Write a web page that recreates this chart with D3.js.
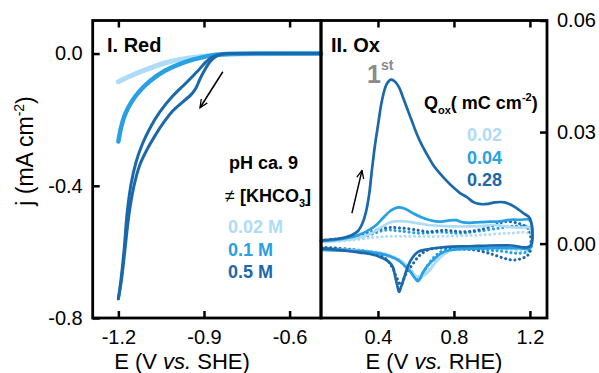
<!DOCTYPE html>
<html>
<head>
<meta charset="utf-8">
<script src="https://cdn.jsdelivr.net/npm/d3@7"></script>
<style>
  html, body { margin: 0; padding: 0; background: #fff; }
  svg { display: block; font-family: "Liberation Sans", Arial, sans-serif; }
</style>
</head>
<body>
<svg id="chart" width="599" height="373"></svg>
<script>
// ---------- Panel I: reduction sweeps (E vs SHE, j in mA cm-2) ----------
const redTicksX = [-1.2, -0.9, -0.6];
const redTicksY = [0.0, -0.4, -0.8];
const redLegend = ["0.02 M", "0.1 M", "0.5 M"];

const redE_002 = [-1.200, -1.148, -1.089, -1.031, -0.973, -0.914, -0.868, -0.809, -0.704, -0.490];
const redJ_002 = [-0.085, -0.064, -0.044, -0.027, -0.016, -0.009, -0.005, -0.0015, -0.0003, 0];

const redE_01 = [-1.200, -1.191, -1.177, -1.156, -1.128, -1.089, -1.037, -0.974, -0.914, -0.862, -0.809, -0.490];
const redJ_01 = [-0.266, -0.225, -0.185, -0.149, -0.116, -0.083, -0.052, -0.028, -0.013, -0.004, -0.001, 0];

// 0.5 M: the two branches of the sweep
const redE_05a = [-1.200, -1.191, -1.180, -1.170, -1.156, -1.138, -1.117, -1.089, -1.054, -1.012, -0.963, -0.921, -0.893, -0.868, -0.837, -0.792, -0.490];
const redJ_05a = [-0.742, -0.684, -0.594, -0.488, -0.397, -0.328, -0.276, -0.225, -0.176, -0.131, -0.089, -0.052, -0.025, -0.009, -0.001, 0, 0];
const redE_05b = [-1.200, -1.189, -1.177, -1.163, -1.146, -1.125, -1.100, -1.072, -1.040, -1.009, -0.974, -0.946, -0.928, -0.914, -0.897, -0.879, -0.858, -0.830, -0.774];
const redJ_05b = [-0.742, -0.684, -0.594, -0.488, -0.403, -0.337, -0.291, -0.249, -0.207, -0.173, -0.146, -0.125, -0.104, -0.077, -0.049, -0.025, -0.009, -0.001, 0];

// ---------- Panel II: oxidation CVs (E vs RHE, j in mA cm-2) ----------
const oxTicksX = [0.4, 0.8, 1.2];
const oxTicksY = [0.00, 0.03, 0.06];
const oxLegend = ["0.02", "0.04", "0.28"];

// first cycles (solid)
const oxE_028 = [0.100, 0.189, 0.258, 0.295, 0.321, 0.339, 0.353, 0.368, 0.384, 0.400, 0.421, 0.445, 0.468, 0.489, 0.511, 0.532, 0.553, 0.579, 0.605, 0.632, 0.658, 0.689, 0.726, 0.763, 0.795, 0.832, 0.868, 0.905, 0.942, 0.979, 1.016, 1.068, 1.105, 1.137, 1.168, 1.200,
                 1.200, 1.100, 0.989, 0.884, 0.753, 0.663, 0.611, 0.584, 0.558, 0.537, 0.521, 0.511, 0.500, 0.489, 0.479, 0.453, 0.411, 0.358, 0.305, 0.226, 0.147, 0.100];
const oxJ_028 = [0.0009, 0.0013, 0.0022, 0.0034, 0.0058, 0.0090, 0.0130, 0.0197, 0.0264, 0.0318, 0.0385, 0.0428, 0.0441, 0.0436, 0.0420, 0.0393, 0.0364, 0.0329, 0.0294, 0.0264, 0.0240, 0.0213, 0.0189, 0.0168, 0.0152, 0.0136, 0.0125, 0.0111, 0.0106, 0.0107, 0.0111, 0.0111, 0.0103, 0.0093, 0.0081, 0.0068,
                 -0.0007, -0.0005, -0.0005, -0.0007, -0.0009, -0.0015, -0.0022, -0.0036, -0.0060, -0.0093, -0.0117, -0.0130, -0.0109, -0.0085, -0.0063, -0.0047, -0.0036, -0.0028, -0.0024, -0.0019, -0.0015, -0.0013];

const oxE_004 = [0.100, 0.200, 0.279, 0.332, 0.384, 0.426, 0.463, 0.500, 0.542, 0.584, 0.632, 0.674, 0.726, 0.768, 0.811, 0.842, 0.884, 0.937, 0.989, 1.042, 1.095, 1.147, 1.200,
                 1.200, 1.147, 1.042, 0.937, 0.832, 0.779, 0.732, 0.695, 0.663, 0.637, 0.611, 0.595, 0.568, 0.537, 0.505, 0.463, 0.411, 0.332, 0.226, 0.100];
const oxJ_004 = [0.0007, 0.0012, 0.0020, 0.0031, 0.0047, 0.0069, 0.0087, 0.0097, 0.0094, 0.0082, 0.0070, 0.0063, 0.0059, 0.0062, 0.0063, 0.0058, 0.0056, 0.0058, 0.0059, 0.0060, 0.0064, 0.0064, 0.0063,
                 -0.0012, -0.0012, -0.0012, -0.0013, -0.0015, -0.0017, -0.0026, -0.0042, -0.0058, -0.0077, -0.0101, -0.0093, -0.0074, -0.0058, -0.0044, -0.0034, -0.0027, -0.0021, -0.0019, -0.0017];

const oxE_002 = [0.100, 0.253, 0.358, 0.411, 0.453, 0.489, 0.542, 0.595, 0.663, 0.753, 0.832, 0.937, 1.016, 1.100, 1.147, 1.200,
                 1.200, 1.042, 0.884, 0.805, 0.753, 0.705, 0.663, 0.626, 0.600, 0.568, 0.537, 0.495, 0.437, 0.358, 0.226, 0.100];
const oxJ_002 = [0.0004, 0.0011, 0.0026, 0.0042, 0.0055, 0.0060, 0.0060, 0.0056, 0.0050, 0.0047, 0.0046, 0.0047, 0.0050, 0.0044, 0.0043, 0.0042,
                 -0.0009, -0.0009, -0.0011, -0.0015, -0.0026, -0.0050, -0.0077, -0.0090, -0.0087, -0.0071, -0.0052, -0.0039, -0.0028, -0.0022, -0.0017, -0.0016];

// following cycles (dotted)
const oxE_028b = [0.100, 0.189, 0.311, 0.437, 0.521, 0.611, 0.663, 0.753, 0.837, 0.926, 1.016, 1.068, 1.137, 1.189, 1.200,
                  1.200, 1.174, 1.121, 1.068, 1.016, 0.963, 0.884, 0.837, 0.753, 0.674, 0.621, 0.579, 0.542, 0.521, 0.500, 0.474, 0.437, 0.358, 0.253, 0.147, 0.100];
const oxJ_028b = [0.0009, 0.0013, 0.0023, 0.0042, 0.0042, 0.0036, 0.0032, 0.0036, 0.0032, 0.0036, 0.0050, 0.0059, 0.0055, 0.0042, 0.0031,
                  -0.0023, -0.0036, -0.0044, -0.0040, -0.0031, -0.0023, -0.0015, -0.0013, -0.0012, -0.0015, -0.0031, -0.0058, -0.0087, -0.0111, -0.0093, -0.0063, -0.0039, -0.0023, -0.0015, -0.0011, -0.0009];

const oxE_004b = [0.100, 0.226, 0.332, 0.437, 0.516, 0.621, 0.726, 0.832, 0.937, 1.042, 1.121, 1.200,
                  1.200, 1.147, 1.042, 0.884, 0.753, 0.700, 0.663, 0.632, 0.616, 0.595, 0.558, 0.505, 0.437, 0.332, 0.200, 0.100];
const oxJ_004b = [0.0007, 0.0012, 0.0020, 0.0036, 0.0034, 0.0028, 0.0031, 0.0028, 0.0034, 0.0042, 0.0047, 0.0042,
                  -0.0017, -0.0026, -0.0020, -0.0016, -0.0017, -0.0034, -0.0058, -0.0085, -0.0098, -0.0087, -0.0063, -0.0042, -0.0028, -0.0020, -0.0015, -0.0012];

const oxE_002b = [0.100, 0.253, 0.384, 0.489, 0.621, 0.779, 0.937, 1.095, 1.200,
                  1.200, 1.042, 0.884, 0.779, 0.716, 0.663, 0.626, 0.595, 0.553, 0.489, 0.411, 0.279, 0.100];
const oxJ_002b = [0.0004, 0.0009, 0.0017, 0.0020, 0.0019, 0.0020, 0.0023, 0.0028, 0.0026,
                  -0.0015, -0.0015, -0.0015, -0.0020, -0.0042, -0.0071, -0.0090, -0.0085, -0.0060, -0.0042, -0.0028, -0.0020, -0.0015];

// ---------- styling ----------
const cLight = "#aedcf7", cMid = "#27a0e4", cDark = "#1b68aa";
const legendColors = [cLight, cMid, cDark];

const svg = d3.select("#chart");
const plotTop = 20.5, plotBottom = 318;

const redX = d3.scaleLinear().domain([-1.29, -0.49]).range([92.7, 321]);
const redY = d3.scaleLinear().domain([-0.8, 0.1]).range([plotBottom, plotTop]);
const oxX = d3.scaleLinear().domain([0.1, 1.29]).range([321, 547]);
const oxY = d3.scaleLinear().domain([-0.02, 0.06]).range([plotBottom, plotTop]);

const zip = (E, J) => E.map((e, i) => [e, J[i]]);
const lineFor = (x, y) => d3.line().x(d => x(d[0])).y(d => y(d[1])).curve(d3.curveCatmullRom.alpha(0.5));

// arrow marker
svg.append("defs").append("marker")
  .attr("id", "arrow").attr("viewBox", "0 0 10 10")
  .attr("refX", 9).attr("refY", 5)
  .attr("markerWidth", 9).attr("markerHeight", 9)
  .attr("markerUnits", "userSpaceOnUse")
  .attr("orient", "auto")
  .append("path").attr("d", "M0,1 L9,5 L0,9")
  .attr("fill", "none").attr("stroke", "#000").attr("stroke-width", 1.4);

// ---------- Panel I curves ----------
const redLine = lineFor(redX, redY);
const gRed = svg.append("g");
gRed.append("path").datum(zip(redE_002, redJ_002)).attr("d", redLine)
  .attr("fill", "none").attr("stroke", cLight).attr("stroke-width", 5).attr("stroke-linecap", "round");
gRed.append("path").datum(zip(redE_01, redJ_01)).attr("d", redLine)
  .attr("fill", "none").attr("stroke", cMid).attr("stroke-width", 4.5).attr("stroke-linecap", "round");
[zip(redE_05a, redJ_05a), zip(redE_05b, redJ_05b)].forEach(d => {
  gRed.append("path").datum(d).attr("d", redLine)
    .attr("fill", "none").attr("stroke", cDark).attr("stroke-width", 3).attr("stroke-linecap", "round");
});

// sweep direction arrow
svg.append("line")
  .attr("x1", redX(-0.834)).attr("y1", redY(-0.055))
  .attr("x2", redX(-0.914)).attr("y2", redY(-0.164))
  .attr("stroke", "#000").attr("stroke-width", 1.5).attr("marker-end", "url(#arrow)");

// ---------- Panel II curves ----------
const oxLine = lineFor(oxX, oxY);
const gOx = svg.append("g");
const dotted = [[oxE_002b, oxJ_002b, cLight], [oxE_004b, oxJ_004b, cMid], [oxE_028b, oxJ_028b, cDark]];
const solid = [[oxE_002, oxJ_002, cLight], [oxE_004, oxJ_004, cMid], [oxE_028, oxJ_028, cDark]];
dotted.forEach(([E, J, c]) => {
  gOx.append("path").datum(zip(E, J)).attr("d", oxLine)
    .attr("fill", "none").attr("stroke", c).attr("stroke-width", 3)
    .attr("stroke-linecap", "round").attr("stroke-dasharray", "0.1 4.6");
});
solid.forEach(([E, J, c]) => {
  gOx.append("path").datum(zip(E, J)).attr("d", oxLine)
    .attr("fill", "none").attr("stroke", c).attr("stroke-width", 2.7).attr("stroke-linejoin", "round");
});

svg.append("line")
  .attr("x1", oxX(0.263)).attr("y1", oxY(0.0082))
  .attr("x2", oxX(0.316)).attr("y2", oxY(0.0197))
  .attr("stroke", "#000").attr("stroke-width", 1.5).attr("marker-end", "url(#arrow)");

// ---------- axes ----------
function styleAxis(g, fontSize) {
  g.select(".domain").remove();
  g.selectAll(".tick line").attr("stroke", "#000").attr("stroke-width", 2.5);
  g.selectAll(".tick text").attr("fill", "#000").attr("font-size", fontSize)
    .attr("font-family", "'Liberation Sans', Arial, sans-serif");
}
const fmt1 = d => d.toFixed(1);
const fmt2 = d => d.toFixed(2);

svg.append("g").attr("transform", `translate(${redX.range()[0]},0)`)
  .call(d3.axisLeft(redY).tickValues(redTicksY).tickSize(-7).tickPadding(10).tickFormat(fmt1))
  .call(g => styleAxis(g, 20));
svg.append("g").attr("transform", `translate(0,${plotBottom})`)
  .call(d3.axisBottom(redX).tickValues(redTicksX).tickSize(-7).tickPadding(12).tickFormat(fmt1))
  .call(g => styleAxis(g, 20));
svg.append("g").attr("transform", `translate(0,${plotTop})`)
  .call(d3.axisTop(redX).tickValues(redTicksX).tickSize(-7).tickFormat(""))
  .call(g => styleAxis(g, 20));

svg.append("g").attr("transform", `translate(${oxX.range()[1]},0)`)
  .call(d3.axisRight(oxY).tickValues(oxTicksY).tickSize(-7).tickPadding(10).tickFormat(fmt2))
  .call(g => styleAxis(g, 20));
svg.append("g").attr("transform", `translate(0,${plotBottom})`)
  .call(d3.axisBottom(oxX).tickValues(oxTicksX).tickSize(-7).tickPadding(12).tickFormat(fmt1))
  .call(g => styleAxis(g, 20));
svg.append("g").attr("transform", `translate(0,${plotTop})`)
  .call(d3.axisTop(oxX).tickValues(oxTicksX).tickSize(-7).tickFormat(""))
  .call(g => styleAxis(g, 20));

// frames
[redX, oxX].forEach(x => {
  svg.append("rect")
    .attr("x", x.range()[0]).attr("y", plotTop)
    .attr("width", x.range()[1] - x.range()[0]).attr("height", plotBottom - plotTop)
    .attr("fill", "none").attr("stroke", "#000").attr("stroke-width", 2.8);
});

// ---------- axis titles ----------
const xt1 = svg.append("text").attr("x", 182).attr("y", 369).attr("text-anchor", "middle")
  .attr("font-size", 22).attr("fill", "#000");
xt1.append("tspan").text("E (V ");
xt1.append("tspan").attr("font-style", "italic").text("vs.");
xt1.append("tspan").text(" SHE)");

const xt2 = svg.append("text").attr("x", 434).attr("y", 369).attr("text-anchor", "middle")
  .attr("font-size", 22).attr("fill", "#000");
xt2.append("tspan").text("E (V ");
xt2.append("tspan").attr("font-style", "italic").text("vs.");
xt2.append("tspan").text(" RHE)");

const yt = svg.append("text").attr("transform", "translate(33,151) rotate(-90)")
  .attr("text-anchor", "middle").attr("font-size", 23).attr("fill", "#000");
yt.append("tspan").text("j (mA cm");
yt.append("tspan").attr("font-size", 14).attr("dy", -9).text("-2");
yt.append("tspan").attr("dy", 9).text(")");

// ---------- panel labels & legends ----------
const bold = (x, y, size, color, txt) => svg.append("text").attr("x", x).attr("y", y)
  .attr("font-size", size).attr("font-weight", "bold").attr("fill", color).text(txt);

bold(107, 52, 20, "#000", "I. Red");
bold(331, 52, 20, "#000", "II. Ox");

bold(229, 169, 18, "#000", "pH ca. 9");
const kh = svg.append("text").attr("x", 225).attr("y", 202).attr("font-size", 18).attr("fill", "#000");
kh.append("tspan").text("\u2260 ");
kh.append("tspan").attr("font-weight", "bold").text("[KHCO");
kh.append("tspan").attr("font-weight", "bold").attr("font-size", 11).attr("dy", 5).text("3");
kh.append("tspan").attr("font-weight", "bold").attr("dy", -5).text("]");

redLegend.forEach((t, i) => bold(228, 233 + i * 22.7, 18, legendColors[i], t));

// first-cycle marker
const first = svg.append("text").attr("x", 367).attr("y", 83).attr("fill", "#8a8a8a").attr("font-weight", "bold");
first.append("tspan").attr("font-size", 25).text("1");
first.append("tspan").attr("font-size", 14).attr("dy", -13).text("st");

const q = svg.append("text").attr("x", 424).attr("y", 109).attr("font-size", 18).attr("font-weight", "bold").attr("fill", "#000");
q.append("tspan").text("Q");
q.append("tspan").attr("font-size", 11).attr("dy", 5).text("ox");
q.append("tspan").attr("dy", -5).text("( mC cm");
q.append("tspan").attr("font-size", 11).attr("dy", -8).text("-2");
q.append("tspan").attr("dy", 8).text(")");

oxLegend.forEach((t, i) => bold(467, 141 + i * 22.5, 18, legendColors[i], t));
</script>
</body>
</html>
